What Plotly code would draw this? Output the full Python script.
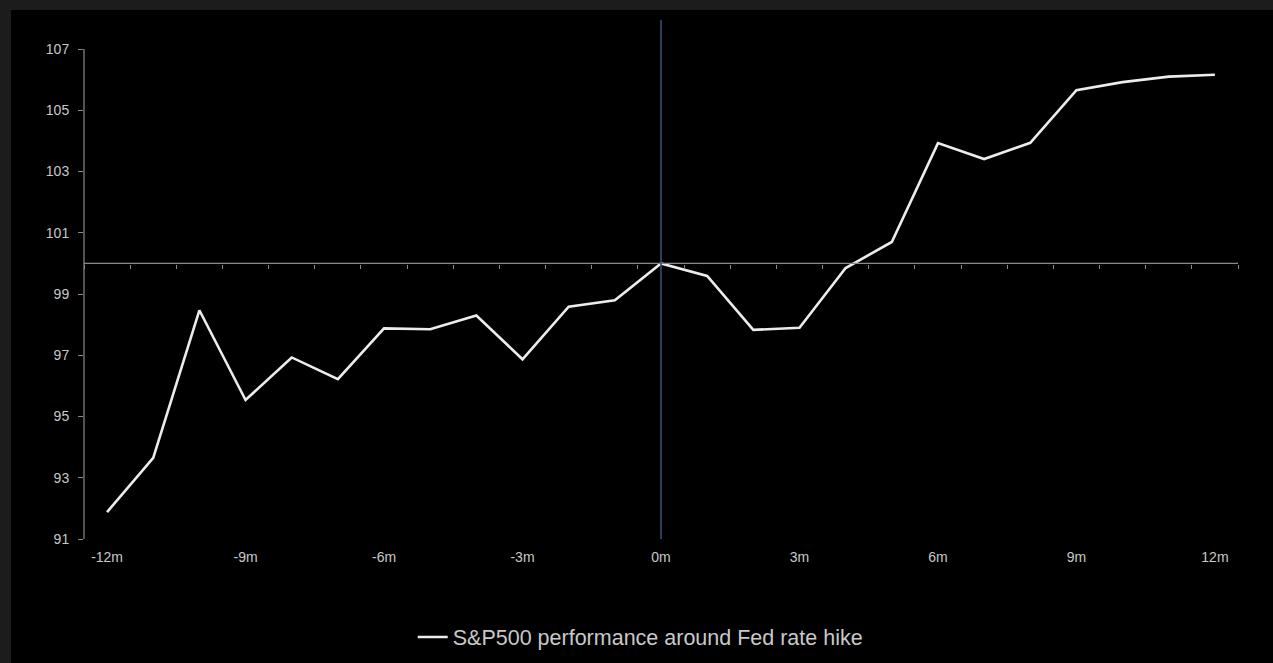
import plotly.graph_objects as go

months = list(range(-12, 13))
sp500 = [91.88, 93.65, 98.47, 95.54, 96.93, 96.22, 97.88, 97.85, 98.30,
         96.87, 98.59, 98.80, 100.0, 99.59, 97.83, 97.90, 99.85, 100.70,
         103.93, 103.41, 103.94, 105.66, 105.92, 106.10, 106.16]
tick_vals = [-12, -9, -6, -3, 0, 3, 6, 9, 12]
tick_text = [f"{v}m" for v in tick_vals]
y_ticks = [91, 93, 95, 97, 99, 101, 103, 105, 107]
series_name = "S&P500 performance around Fed rate hike"
baseline = 100

W, H = 1273, 663
ML, MR, MT, MB = 84, 35, 20, 124
x_range = [months[0] - 0.5, months[-1] + 0.5]
y_range = [91, 107.95]
boundaries = [m - 0.5 for m in months] + [months[-1] + 0.5]

FONT = "Liberation Sans Narrow, Liberation Sans, Arial, sans-serif"
TXT = "#c8c8c8"
AX = "#8a8a8a"
FRAME = "#1c1c1c"

fig = go.Figure()

# horizontal base line (drawn on x2 so its axis ticks sit on it)
fig.add_trace(go.Scatter(
    x=x_range, y=[baseline, baseline], xaxis="x2", mode="lines",
    line=dict(color=AX, width=1.2), hoverinfo="skip", showlegend=False))

fig.add_trace(go.Scatter(
    x=months, y=sp500, mode="lines", name=series_name,
    line=dict(color="#ececec", width=2.6)))

plot_w = W - ML - MR
plot_h = H - MT - MB
px_x = lambda p: (p - ML) / plot_w          # pixel -> paper x
px_y = lambda p: (MT + plot_h - p) / plot_h  # pixel -> paper y

fig.update_layout(
    width=W, height=H,
    margin=dict(l=ML, r=MR, t=MT, b=MB),
    paper_bgcolor="#000000",
    plot_bgcolor="#000000",
    font=dict(family=FONT, color=TXT, size=14),
    xaxis=dict(range=x_range, tickvals=tick_vals, ticktext=tick_text,
               showgrid=False, zeroline=False, showline=False, ticks="",
               ticklabelstandoff=8,
               tickfont=dict(size=14, color=TXT)),
    xaxis2=dict(range=x_range, overlaying="x", anchor="free",
                position=(baseline - y_range[0]) / (y_range[1] - y_range[0]),
                side="bottom", showline=True, linecolor=AX, linewidth=1.2,
                ticks="outside", ticklen=4, tickcolor=AX, tickwidth=1,
                tickvals=boundaries, showticklabels=False,
                showgrid=False, zeroline=False),
    yaxis=dict(range=y_range, tickvals=y_ticks, showgrid=False,
               zeroline=False, showline=False, ticks="outside", ticklen=5,
               tickcolor=AX, tickwidth=1, ticklabelstandoff=6,
               tickfont=dict(size=14, color=TXT)),
    legend=dict(orientation="h", x=0.482, xanchor="center",
                yref="container", y=1 - 637 / H, yanchor="middle",
                font=dict(size=21.5, color=TXT, family=FONT),
                bgcolor="rgba(0,0,0,0)"),
    shapes=[
        # gray frame: top strip and left strip
        dict(type="rect", xref="paper", yref="paper", layer="below",
             x0=px_x(0), x1=px_x(W), y0=px_y(10), y1=px_y(0),
             fillcolor=FRAME, line=dict(width=0)),
        dict(type="rect", xref="paper", yref="paper", layer="below",
             x0=px_x(0), x1=px_x(11), y0=px_y(H), y1=px_y(0),
             fillcolor=FRAME, line=dict(width=0)),
        # y axis line from 91 to 107
        dict(type="line", xref="paper", yref="y", x0=0, x1=0,
             y0=y_ticks[0], y1=y_ticks[-1], line=dict(color=AX, width=1.2)),
        # vertical marker at 0m
        dict(type="line", xref="x", yref="y", x0=0, x1=0,
             y0=y_range[0], y1=y_range[1],
             line=dict(color="#3a4d6e", width=1.6)),
    ],
)

fig.write_html(
    "out.html",
    config={"displayModeBar": False},
    post_script="document.body.style.margin='0';"
                "document.body.style.background='#000000';"
                "document.body.style.overflow='hidden';")
